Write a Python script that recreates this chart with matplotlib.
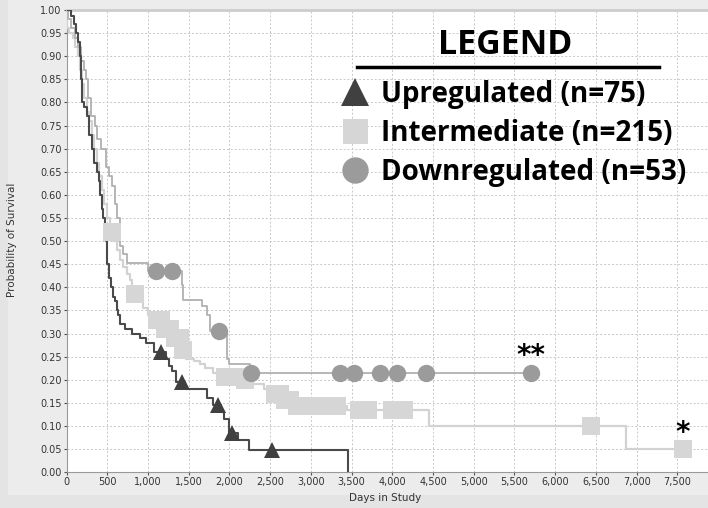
import numpy as np
import matplotlib
matplotlib.use("Agg")
import matplotlib.pyplot as plt
from matplotlib.lines import Line2D
from matplotlib.ticker import FuncFormatter

# Upregulated group (step times in days, survival after each step)
up_times = [0, 60, 90, 117, 140, 166, 180, 186, 210, 248, 280, 310, 340, 371, 395,
            412, 430, 445, 470, 485, 495, 501, 520, 547, 575, 596, 615, 633, 660,
            720, 800, 900, 980, 1080, 1220, 1260, 1300, 1350, 1460, 1720, 1800,
            1900, 1940, 2000, 2100, 2240, 3455]
up_surv = [1.0, 0.987, 0.97, 0.95, 0.93, 0.90, 0.85, 0.80, 0.79, 0.77, 0.73, 0.70,
           0.67, 0.65, 0.63, 0.60, 0.57, 0.55, 0.52, 0.50, 0.47, 0.45, 0.42, 0.40,
           0.38, 0.37, 0.35, 0.34, 0.32, 0.31, 0.30, 0.29, 0.28, 0.26, 0.245, 0.23,
           0.22, 0.195, 0.18, 0.16, 0.145, 0.13, 0.115, 0.085, 0.07, 0.048, 0.0]
up_censor = [1160, 1420, 1860, 2030, 2520]

# Intermediate group
mid_times = [0, 10, 30, 80, 110, 140, 165, 190, 220, 250, 280, 310, 340, 370, 400,
             430, 460, 500, 530, 575, 616, 660, 698, 740, 780, 810, 875, 945, 1000,
             1060, 1180, 1300, 1400, 1470, 1560, 1640, 1700, 1800, 1870, 2150, 2250,
             2420, 2500, 2640, 2790, 3450, 4457, 6870]
mid_surv = [1.0, 0.96, 0.95, 0.94, 0.92, 0.90, 0.87, 0.84, 0.81, 0.78, 0.76, 0.73,
            0.70, 0.67, 0.64, 0.61, 0.58, 0.55, 0.52, 0.50, 0.48, 0.46, 0.445, 0.43,
            0.415, 0.385, 0.37, 0.355, 0.34, 0.33, 0.31, 0.29, 0.265, 0.245, 0.24,
            0.235, 0.225, 0.215, 0.207, 0.20, 0.19, 0.18, 0.17, 0.156, 0.143, 0.135,
            0.10, 0.05]
mid_censor = [555, 841, 1108, 1160, 1210, 1270, 1333, 1390, 1435, 1946, 2000, 2068,
              2194, 2560, 2620, 2684, 2750, 2828, 2900, 2980, 3060, 3140, 3220,
              3317, 3590, 3650, 3705, 4000, 4075, 4150, 6440, 7565]

# Downregulated group
down_times = [0, 20, 60, 100, 140, 180, 210, 240, 270, 300, 350, 380, 420, 485, 520,
              555, 590, 617, 660, 697, 740, 1000, 1415, 1432, 1661, 1722, 1763, 1968,
              2000, 2250]
down_surv = [1.0, 0.98, 0.96, 0.94, 0.92, 0.89, 0.87, 0.85, 0.81, 0.77, 0.75, 0.72,
             0.70, 0.66, 0.64, 0.62, 0.58, 0.55, 0.49, 0.472, 0.452, 0.436, 0.405,
             0.373, 0.36, 0.34, 0.305, 0.245, 0.234, 0.214]
down_censor = [1100, 1300, 1870, 2267, 3359, 3532, 3851, 4064, 4416, 5707]

labels = ["Upregulated (n=75)", "Intermediate (n=215)", "Downregulated (n=53)"]
x_ticks = list(range(0, 8000, 500))
y_ticks = np.round(np.arange(0, 1.0001, 0.05), 2)

W, H = 708, 508
fig = plt.figure(figsize=(W / 100, H / 100), dpi=100)
fig.patch.set_facecolor("#e4e4e4")
fig.add_artist(plt.Rectangle((8 / W, (H - 495) / H), 1, 1, transform=fig.transFigure,
                             facecolor="#ececec", edgecolor="none", zorder=0))

left, right, top, bottom = 66.5, 708, 10, 472.3
ax = fig.add_axes([left / W, (H - bottom) / H, (right - left) / W, (bottom - top) / H])
ax.set_facecolor("white")


def surv_at(times, surv, t):
    i = np.searchsorted(times, t, side="right") - 1
    return surv[i]


def draw_group(times, surv, censor, end, color, lw, marker, mcolor, ms):
    t = list(times) + [end]
    s = list(surv) + [surv[-1]]
    ax.step(t, s, where="post", color=color, lw=lw, zorder=3)
    cy = [surv_at(times, surv, c) for c in censor]
    ax.plot(censor, cy, ls="none", marker=marker, color=mcolor, ms=ms,
            markeredgewidth=0, zorder=4)


draw_group(mid_times, mid_surv, mid_censor, 7600, "#d2d2d2", 1.6, "s", "#d6d6d6", 13)
draw_group(down_times, down_surv, down_censor, 5707, "#b0b0b0", 1.3, "o", "#9b9b9b", 12.5)
draw_group(up_times, up_surv, up_censor, 3455, "#4a4a4a", 1.5, "^", "#404040", 12)

ax.text(5707, surv_at(down_times, down_surv, 5707) + 0.008, "**", ha="center",
        va="bottom", fontsize=20, fontweight="bold", color="black")
ax.text(7565, surv_at(mid_times, mid_surv, 7565) + 0.004, "*", ha="center",
        va="bottom", fontsize=20, fontweight="bold", color="black")

ax.set_xlim(0, 7877)
ax.set_ylim(0, 1.0)
ax.set_xticks(x_ticks)
ax.set_yticks(y_ticks)
ax.xaxis.set_major_formatter(FuncFormatter(lambda v, p: f"{v:,.0f}"))
ax.yaxis.set_major_formatter(FuncFormatter(lambda v, p: f"{v:.2f}"))
ax.tick_params(labelsize=7, colors="#555555", length=2, width=0.8, pad=1.5)
for lab in ax.get_xticklabels() + ax.get_yticklabels():
    lab.set_color("#333333")
ax.grid(True, color="#c8c8c8", linestyle=(0, (2, 2)), linewidth=0.7)
ax.set_axisbelow(True)
ax.spines["right"].set_visible(False)
ax.spines["top"].set_color("#cccccc")
ax.spines["top"].set_linewidth(2)
ax.spines["left"].set_color("#999999")
ax.spines["bottom"].set_color("#999999")

fig.text(12 / W, 1 - 240 / H, "Probability of Survival", rotation=90, ha="center",
         va="center", fontsize=7.5, color="#333333")
fig.text(385 / W, 1 - 498 / H, "Days in Study", ha="center", va="center",
         fontsize=7.5, color="#333333")

# Legend block
fig.text(505 / W, 1 - 45 / H, "LEGEND", ha="center", va="center", fontsize=24.5,
         fontweight="bold", family="Open Sans", color="black")
fig.add_artist(Line2D([357 / W, 659 / W], [1 - 67 / H, 1 - 67 / H],
                      transform=fig.transFigure, color="black", lw=2.5))
handles = [
    Line2D([], [], ls="none", marker="^", color="#404040", ms=20, markeredgewidth=0),
    Line2D([], [], ls="none", marker="s", color="#d6d6d6", ms=18, markeredgewidth=0),
    Line2D([], [], ls="none", marker="o", color="#9b9b9b", ms=19, markeredgewidth=0),
]
fig.legend(handles, labels, loc="upper left", bbox_to_anchor=(341 / W, 1 - 80 / H),
           frameon=False, handlelength=1.0, handletextpad=0.43, labelspacing=0.36,
           borderpad=0, borderaxespad=0,
           prop={"family": "Open Sans", "weight": "bold", "size": 20})

fig.savefig("out.png", dpi=100, facecolor=fig.get_facecolor())
